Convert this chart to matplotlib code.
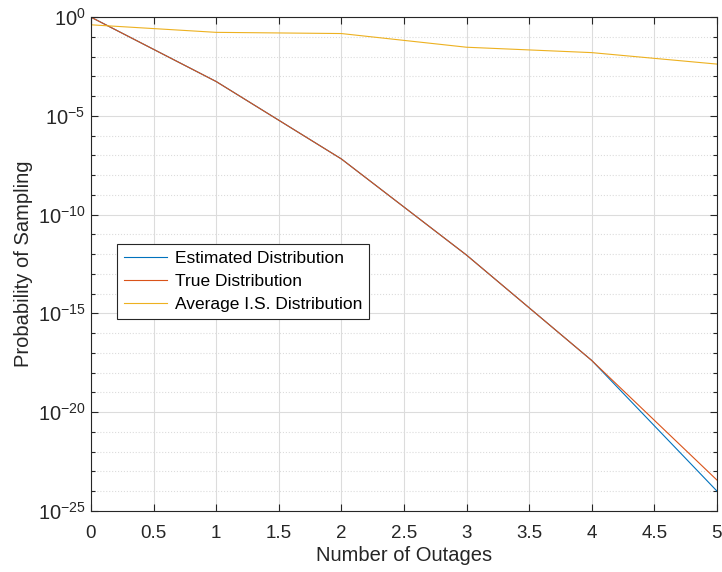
import numpy as np
import matplotlib
matplotlib.use("Agg")
import matplotlib.pyplot as plt
from matplotlib.ticker import FixedLocator, NullFormatter

plt.rcParams['font.family'] = ['Liberation Sans', 'DejaVu Sans']
plt.rcParams['mathtext.default'] = 'regular'

# data
outages = [0, 1, 2, 3, 4, 5]
estimated = [1.0, 5.5e-4, 6.6e-8, 8.9e-13, 4.1e-18, 1.0e-24]
true_dist = [1.0, 5.5e-4, 6.6e-8, 8.9e-13, 4.1e-18, 3.6e-24]
avg_is = [0.41, 0.17, 0.148, 0.030, 0.016, 0.0042]

labels = ["Estimated Distribution", "True Distribution",
          "Average I.S. Distribution"]
colors = ["#0072BD", "#D95319", "#EDB120"]

fig = plt.figure(figsize=(7.22, 5.72), dpi=100)
ax = fig.add_axes([0.126, 0.107, 0.867, 0.863])

for y, lab, c in zip([estimated, true_dist, avg_is], labels, colors):
    ax.plot(outages, y, color=c, linewidth=0.8, label=lab)

ax.set_yscale('log')
ax.set_xlim(0, 5)
ax.set_ylim(1e-25, 1e0)

ax.set_xticks(np.arange(0, 5.01, 0.5))
ax.set_xticklabels(["0", "0.5", "1", "1.5", "2", "2.5", "3", "3.5", "4", "4.5", "5"])
ax.yaxis.set_major_locator(FixedLocator([10.0**k for k in range(-25, 1, 5)]))
ax.set_yticklabels(["$10^{%d}$" % k for k in range(-25, 1, 5)])
ax.yaxis.set_minor_locator(FixedLocator([10.0**k for k in range(-25, 1) if k % 5]))
ax.yaxis.set_minor_formatter(NullFormatter())

axis_col = "#262626"
ax.tick_params(which='both', direction='in', top=True, right=True,
               colors=axis_col)
ax.tick_params(axis='x', labelsize=13.5, pad=10)
ax.tick_params(axis='y', labelsize=14.5, pad=4)
ax.tick_params(which='major', length=5, width=0.8)
ax.tick_params(which='minor', length=3, width=0.8)
for s in ax.spines.values():
    s.set_color(axis_col)
    s.set_linewidth(0.8)

ax.grid(True, which='major', color='#dcdcdc', linewidth=0.8)
ax.grid(True, which='minor', axis='y', color='#dcdcdc', linestyle=':', linewidth=0.8)
ax.set_axisbelow(True)

ax.set_xlabel("Number of Outages", fontsize=14.5, color=axis_col, labelpad=3)
ax.set_ylabel("Probability of Sampling", fontsize=14.5, color=axis_col, labelpad=3)

leg = ax.legend(loc='upper left', bbox_to_anchor=(0.0415, 0.54), borderaxespad=0,
                fontsize=12.5, frameon=True, fancybox=False, framealpha=1,
                edgecolor=axis_col, handlelength=2.5, handletextpad=0.45,
                labelspacing=0.45, borderpad=0.4)
leg.get_frame().set_linewidth(0.8)

fig.savefig("out.png", dpi=100)
